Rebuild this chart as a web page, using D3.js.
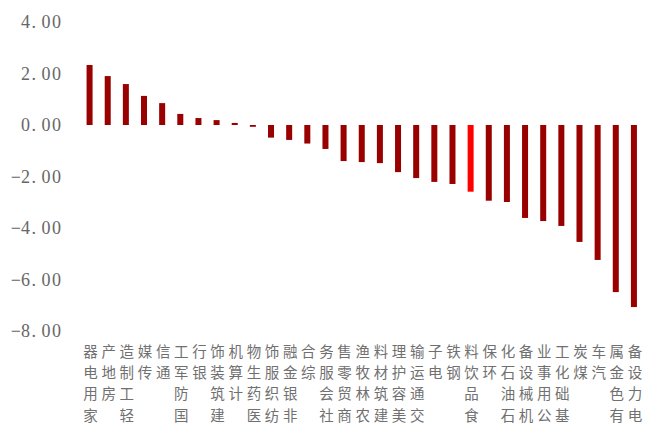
<!DOCTYPE html>
<html>
<head>
<meta charset="utf-8">
<script src="https://cdn.jsdelivr.net/npm/d3@7"></script>
<style>
  html, body { margin: 0; padding: 0; background: #ffffff; }
  svg { display: block; }
</style>
</head>
<body>
<svg id="chart" width="647" height="428"></svg>
<script>
// Industry names, in the order the bars are drawn
const industries = [
  "家用电器", "房地产", "轻工制造", "传媒", "通信", "国防军工", "银行", "建筑装饰",
  "计算机", "医药生物", "纺织服饰", "非银金融", "综合", "社会服务", "商贸零售",
  "农林牧渔", "建筑材料", "美容护理", "交通运输", "电子", "钢铁", "食品饮料",
  "环保", "石油石化", "机械设备", "公用事业", "基础化工", "煤炭", "汽车",
  "有色金属", "电力设备"
];

// Return (%) for each industry
const returns = [
  2.33, 1.90, 1.59, 1.13, 0.85, 0.43, 0.27, 0.19,
  0.08, -0.07, -0.49, -0.58, -0.72, -0.93, -1.40,
  -1.44, -1.48, -1.83, -2.06, -2.21, -2.29, -2.59,
  -2.94, -2.99, -3.61, -3.73, -3.92, -4.54, -5.24,
  -6.49, -7.07
];

// Industry shown in the highlight colour
const highlighted = ["食品饮料"];

// Y axis ticks and their labels
const yTickValues = [4, 2, 0, -2, -4, -6, -8];
const yTickLabels = ["4.00", "2.00", "0.00", "−2.00", "−4.00", "−6.00", "−8.00"];

const svg = d3.select("#chart");

const x = d3.scaleBand()
  .domain(industries)
  .range([80.5, 643])
  .paddingInner(0.669)
  .paddingOuter(0.3345);

const y = d3.scaleLinear()
  .domain([-8, 4])
  .range([331, 22]);

// Bars
svg.append("g")
  .selectAll("rect")
  .data(industries.map((name, i) => ({ name, value: returns[i] })))
  .join("rect")
  .attr("x", d => x(d.name))
  .attr("width", x.bandwidth())
  .attr("y", d => y(Math.max(0, d.value)))
  .attr("height", d => Math.abs(y(d.value) - y(0)))
  .attr("fill", d => highlighted.includes(d.name) ? "#ff0000" : "#990000");

// Y axis labels: integer part, decimal point and decimals set as separate runs
const yLabelGroup = svg.append("g")
  .attr("font-family", "'Liberation Serif', 'DejaVu Serif', serif")
  .attr("font-size", 18)
  .attr("fill", "#666666");

yTickValues.forEach((v, i) => {
  const label = yTickLabels[i];
  const dot = label.indexOf(".");
  const t = yLabelGroup.append("text")
    .attr("y", y(v))
    .attr("dy", "0.34em");
  t.append("tspan")
    .attr("x", 30)
    .attr("text-anchor", "end")
    .text(label.slice(0, dot));
  t.append("tspan")
    .attr("x", 31.5)
    .attr("text-anchor", "start")
    .text(".");
  t.append("tspan")
    .attr("x", 41.5)
    .attr("text-anchor", "start")
    .attr("letter-spacing", 1.5)
    .text(label.slice(dot + 1));
});

// Category labels: upright characters stacked, reading upward, top-aligned
const charPitch = 21.2;
const labelTop = 357;
const xLabelGroup = svg.append("g")
  .attr("font-family", "'Noto Sans CJK SC', 'Noto Sans CJK JP', sans-serif")
  .attr("font-size", 14.5)
  .attr("fill", "#707070");

industries.forEach(name => {
  const chars = Array.from(name);
  const cx = x(name) + x.bandwidth() / 2 + 1;
  const t = xLabelGroup.append("text").attr("text-anchor", "middle");
  chars.forEach((ch, i) => {
    t.append("tspan")
      .attr("x", cx)
      .attr("y", labelTop + (chars.length - 1 - i) * charPitch)
      .text(ch);
  });
});
</script>
</body>
</html>
